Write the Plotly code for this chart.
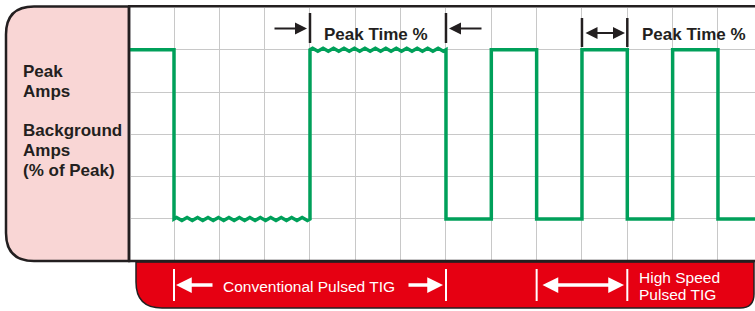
import plotly.graph_objects as go

# ---------------- data ----------------
PHASE_EDGES = [0, 1, 4, 7, 8, 9, 10, 11, 12, 13, 13.82]   # time units (grid columns)
PHASE_LEVEL = ["peak", "background", "peak", "background", "peak",
               "background", "peak", "background", "peak", "background"]
NOISY_PHASES = [1, 2]          # conventional pulsing shows ripple on both levels
LEVEL_VALUE = {"peak": 5, "background": 1}

LEFT_LABELS = ["Peak", "Amps", "Background", "Amps", "(% of Peak)"]
TOP_LABEL = "Peak Time %"
CONVENTIONAL_LABEL = "Conventional Pulsed TIG"
HIGH_SPEED_LABELS = ["High Speed", "Pulsed TIG"]

CONV_SPAN = [1, 7]        # time span marked as conventional pulsing
HS_SPAN = [9, 11]         # time span marked as high speed pulsing
PEAK_SPAN_CONV = [4, 7]
PEAK_SPAN_HS = [10, 11]

# ---------------- geometry / style ----------------
W, H = 755, 311
X0PX, XSTEP = 128.67, 45.33
Y6PX, Y0PX = 7.5, 261.25
GREEN = "#00a05a"
RED = "#e60012"
PINK = "#f9d6d5"
DARK = "#231f20"
GRID = "#c8c8c8"
RIPPLE_AMP = 0.035
RIPPLE_COUNT = 13

def X(px):
    return px / W

def Y(py):
    return 1 - py / H

def xd(px):
    return (px - X0PX) / XSTEP

# build waveform
xs, ys = [], []
for i, lvl in enumerate(PHASE_LEVEL):
    a, b = PHASE_EDGES[i], PHASE_EDGES[i + 1]
    L = LEVEL_VALUE[lvl]
    if i in NOISY_PHASES:
        n = RIPPLE_COUNT * 4
        pattern = [0, 1, 0, -1]
        for k in range(n + 1):
            xs.append(a + (b - a) * k / n)
            ys.append(L + RIPPLE_AMP * pattern[k % 4])
    else:
        xs += [a, b]
        ys += [L, L]

fig = go.Figure()
fig.add_trace(go.Scatter(x=xs, y=ys, mode="lines",
                         line=dict(color=GREEN, width=3.5), hoverinfo="skip"))

shapes = []
# pink label panel
r = 28
p = (f"M {X(6+r)},{Y(6.5)} L {X(129)},{Y(6.5)} L {X(129)},{Y(261)} "
     f"L {X(6+r)},{Y(261)} Q {X(6)},{Y(261)} {X(6)},{Y(261-r)} "
     f"L {X(6)},{Y(6.5+r)} Q {X(6)},{Y(6.5)} {X(6+r)},{Y(6.5)} Z")
shapes.append(dict(type="path", path=p, xref="paper", yref="paper",
                   fillcolor=PINK, line=dict(color=DARK, width=2.5), layer="below"))
# red bottom bar
r1, r2 = 26, 14
p = (f"M {X(136)},{Y(262)} L {X(754)},{Y(262)} L {X(754)},{Y(308-r2)} "
     f"Q {X(754)},{Y(308)} {X(754-r2)},{Y(308)} L {X(136+r1)},{Y(308)} "
     f"Q {X(136)},{Y(308)} {X(136)},{Y(308-r1)} Z")
shapes.append(dict(type="path", path=p, xref="paper", yref="paper",
                   fillcolor=RED, line=dict(color=DARK, width=1.5)))
# chart frame
for (x0, y0, x1, y1) in [(128, 6.3, 760, 6.3), (129, 6.5, 129, 261), (128, 261, 760, 261)]:
    shapes.append(dict(type="line", xref="paper", yref="paper",
                       x0=X(x0), y0=Y(y0), x1=X(x1), y1=Y(y1),
                       line=dict(color=DARK, width=2.5)))
# top markers
for xv in PEAK_SPAN_CONV:
    shapes.append(dict(type="line", xref="x", yref="paper", x0=xv, x1=xv,
                       y0=Y(13), y1=Y(43), line=dict(color=DARK, width=2.5)))
for xv in PEAK_SPAN_HS:
    shapes.append(dict(type="line", xref="x", yref="paper", x0=xv, x1=xv,
                       y0=Y(18), y1=Y(47), line=dict(color=DARK, width=2.5)))
# bottom white markers
for xv in CONV_SPAN + HS_SPAN:
    shapes.append(dict(type="line", xref="x", yref="paper", x0=xv, x1=xv,
                       y0=Y(269), y1=Y(301), line=dict(color="white", width=2)))

ann = []
left_y = [70.5, 90.5, 129, 149.5, 169]
for t, yy in zip(LEFT_LABELS, left_y):
    ann.append(dict(text=f"<b>{t}</b>", x=X(21), y=Y(yy + 1), xref="paper", yref="paper",
                    xanchor="left", yanchor="middle", showarrow=False,
                    font=dict(family="Liberation Sans, Arial", size=17, color=DARK)))
# top labels
ann.append(dict(text=f"<b>{TOP_LABEL}</b>", x=xd(376), y=Y(34), xref="x", yref="paper",
                xanchor="center", yanchor="middle", showarrow=False,
                font=dict(family="Liberation Sans, Arial", size=17, color=DARK)))
ann.append(dict(text=f"<b>{TOP_LABEL}</b>", x=xd(693.5), y=Y(34), xref="x", yref="paper",
                xanchor="center", yanchor="middle", showarrow=False,
                font=dict(family="Liberation Sans, Arial", size=17, color=DARK)))
# top arrows
blk = dict(text="", showarrow=True, arrowhead=2, arrowsize=1.2, arrowwidth=2,
           arrowcolor=DARK, standoff=0, startstandoff=0, xref="x", yref="paper")
ann.append(dict(blk, x=xd(307), y=Y(28.5), ax=-34, ay=0))
ann.append(dict(blk, x=xd(449), y=Y(28.5), ax=34, ay=0))
ann.append(dict(blk, x=xd(625), y=Y(33), ax=-41, ay=0, arrowside="end+start",
                startarrowhead=2, startarrowsize=1.2))
# bottom labels
ann.append(dict(text=CONVENTIONAL_LABEL, x=xd(309), y=Y(286), xref="x", yref="paper",
                xanchor="center", yanchor="middle", showarrow=False,
                font=dict(family="Liberation Sans, Arial", size=15.5, color="white")))
for t, yy in zip(HIGH_SPEED_LABELS, [276.5, 294]):
    ann.append(dict(text=t, x=xd(637), y=Y(yy + 0.5), xref="x", yref="paper",
                    xanchor="left", yanchor="middle", showarrow=False,
                    font=dict(family="Liberation Sans, Arial", size=15.5, color="white")))
wht = dict(text="", showarrow=True, arrowhead=2, arrowsize=0.9, arrowwidth=3.5,
           arrowcolor="white", standoff=0, startstandoff=0, xref="x", yref="paper")
ann.append(dict(wht, x=xd(176), y=Y(285), ax=38, ay=0))
ann.append(dict(wht, x=xd(443), y=Y(285), ax=-36, ay=0))
ann.append(dict(wht, x=xd(624), y=Y(285), ax=-83, ay=0, arrowside="end+start",
                startarrowhead=2, startarrowsize=0.9))

fig.update_layout(
    width=W, height=H, margin=dict(l=0, r=0, t=0, b=0),
    paper_bgcolor="white", plot_bgcolor="white", showlegend=False,
    xaxis=dict(domain=[X0PX / W, 1], range=[0, (W - X0PX) / XSTEP], dtick=1, tick0=0,
               showgrid=True, gridcolor=GRID, gridwidth=1, zeroline=False,
               showticklabels=False, showline=False, ticks="", fixedrange=True),
    yaxis=dict(domain=[1 - Y0PX / H, 1 - Y6PX / H], range=[0, 6], dtick=1, tick0=0,
               showgrid=True, gridcolor=GRID, gridwidth=1, zeroline=False,
               showticklabels=False, showline=False, ticks="", fixedrange=True),
    shapes=shapes, annotations=ann,
)
fig.write_html("out.html", config={"displayModeBar": False},
               post_script="document.body.style.margin='0';document.body.style.overflow='hidden';")
